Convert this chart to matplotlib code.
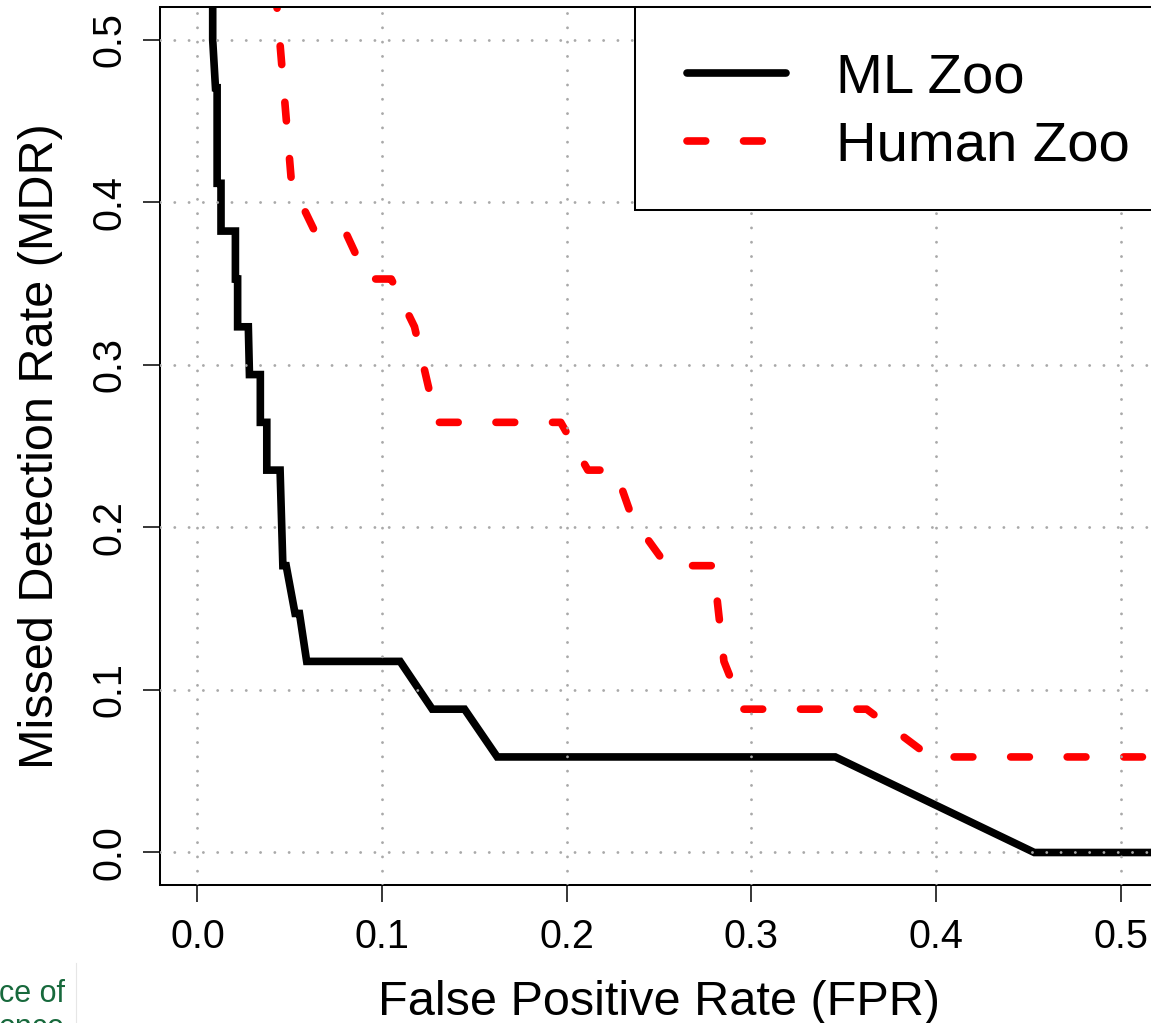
import matplotlib
matplotlib.use("Agg")
import matplotlib.pyplot as plt
from matplotlib.lines import Line2D
from matplotlib.patches import Rectangle

# ROC-style trade-off curves: false positive rate vs missed detection rate
ml_fpr = [0.0083, 0.0083, 0.0098, 0.0107, 0.0107, 0.0128, 0.0128, 0.0206,
          0.0206, 0.0218, 0.0218, 0.0276, 0.0282, 0.0341, 0.0341, 0.0376,
          0.0376, 0.0448, 0.0463, 0.0481, 0.0529, 0.0553, 0.0592, 0.1098,
          0.1272, 0.1447, 0.1624, 0.3455, 0.4533, 0.6000]
ml_mdr = [0.6000, 0.5000, 0.4706, 0.4706, 0.4118, 0.4118, 0.3824, 0.3824,
          0.3529, 0.3529, 0.3235, 0.3235, 0.2941, 0.2941, 0.2647, 0.2647,
          0.2353, 0.2353, 0.1765, 0.1765, 0.1471, 0.1471, 0.1176, 0.1176,
          0.0882, 0.0882, 0.0588, 0.0588, 0.0000, 0.0000]

human_fpr = [0.0395, 0.0510, 0.0635, 0.0800, 0.0920, 0.1050, 0.1176, 0.1296,
             0.1968, 0.2115, 0.2264, 0.2355, 0.2542, 0.2795, 0.2852, 0.2955,
             0.3625, 0.3970, 0.6000]
human_mdr = [0.5700, 0.4118, 0.3824, 0.3824, 0.3529, 0.3529, 0.3235, 0.2647,
             0.2647, 0.2353, 0.2353, 0.2059, 0.1765, 0.1765, 0.1176, 0.0882,
             0.0882, 0.0588, 0.0588]

series_labels = ["ML Zoo", "Human Zoo"]
tick_values = [0.0, 0.1, 0.2, 0.3, 0.4, 0.5]
tick_labels = ["0.0", "0.1", "0.2", "0.3", "0.4", "0.5"]

plt.rcParams["font.family"] = ["Liberation Sans", "DejaVu Sans"]

fig = plt.figure(figsize=(11.51, 10.23), dpi=100)
ax = fig.add_axes([0.1394, 0.1349, 0.8662, 0.8578])

line_w = 5.5
dash_pattern = (2.45, 4.95)

ax.plot(ml_fpr, ml_mdr, color="black", lw=line_w,
        solid_joinstyle="miter", solid_capstyle="round", zorder=2)
ax.plot(human_fpr, human_mdr, color="#ff0000", lw=line_w,
        ls=(1.24, dash_pattern), dash_capstyle="round",
        dash_joinstyle="round", zorder=2)

ax.set_xlim(-0.02, 0.52)
ax.set_ylim(-0.02, 0.52)
ax.set_xticks(tick_values, tick_labels)
ax.set_yticks(tick_values, tick_labels)

# dotted light-grey grid drawn over the curves
ax.set_axisbelow(False)
ax.grid(True, color="#a9a9a9", lw=2.1, ls=(0, (0.001, 4.9)),
        dash_capstyle="round")

for side in ("left", "bottom", "top", "right"):
    ax.spines[side].set_linewidth(1.45)

ax.tick_params(axis="both", direction="out", length=12.5, width=1.1,
               labelsize=28.5, color="black")
ax.tick_params(axis="x", pad=11)
ax.tick_params(axis="y", pad=10.7, labelrotation=90)
for lab in ax.get_yticklabels():
    lab.set_verticalalignment("center")

ax.set_xlabel("False Positive Rate (FPR)", fontsize=35)
ax.set_ylabel("Missed Detection Rate (MDR)", fontsize=35)
ax.xaxis.set_label_coords(0.5, -0.1083)
ax.yaxis.set_label_coords(-0.0973, 0.5)

# legend box in the top-right corner of the plot region
ax.add_patch(Rectangle((0.476, 0.7692), 0.524, 0.2308,
                       transform=ax.transAxes, facecolor="white",
                       edgecolor="black", lw=1.45, zorder=4,
                       clip_on=False))
handles = [
    Line2D([], [], color="black", lw=line_w, solid_capstyle="round"),
    Line2D([], [], color="#ff0000", lw=line_w, ls=(0, dash_pattern),
           dash_capstyle="round"),
]
leg = ax.legend(handles, series_labels, loc="upper right",
                bbox_to_anchor=(1.0, 0.9806), borderaxespad=0.0,
                fontsize=40.5, frameon=False, borderpad=0.5,
                labelspacing=0.28, handlelength=1.77, handletextpad=0.88)
leg.set_zorder(5)

# neighbouring page fragment at the lower-left corner
fig.text(-0.001, 0.0205, "ce of", fontsize=22, color="#17693c",
         ha="left", va="baseline")
fig.text(-0.001, -0.013, "ence", fontsize=22, color="#17693c",
         ha="left", va="baseline")
fig.add_artist(Line2D([76 / 1151, 76 / 1151], [0.0, 60 / 1023],
                      transform=fig.transFigure, color="#e6e6e6", lw=0.8))

fig.savefig("out.png", dpi=100)
